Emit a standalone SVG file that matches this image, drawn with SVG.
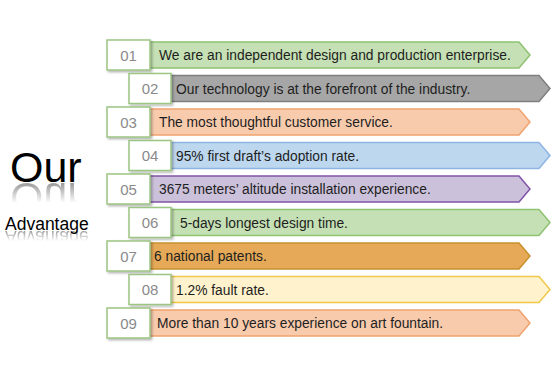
<svg xmlns="http://www.w3.org/2000/svg" width="554" height="379" viewBox="0 0 554 379">
<defs>
<style>
.bar{stroke-width:1.5}
.box{fill:#fff;stroke:#9cc583;stroke-width:1.5}
.num{font-family:"Liberation Sans",Arial,sans-serif;font-size:15px;fill:#8a8a8a;text-anchor:middle}
.lbl{font-family:"Liberation Sans",Arial,sans-serif;font-size:13.8px;fill:#1e1e1e}
.big{font-family:"Liberation Sans",Arial,sans-serif;fill:#000}
</style>
<filter id="sh" x="-20%" y="-20%" width="150%" height="150%">
<feDropShadow dx="1.5" dy="1.5" stdDeviation="1.2" flood-color="#000" flood-opacity="0.3"/>
</filter>
<linearGradient id="fade1" x1="0" y1="0" x2="0" y2="1">
<stop offset="0" stop-color="#fff" stop-opacity="0.4"/>
<stop offset="1" stop-color="#fff" stop-opacity="0"/>
</linearGradient>
<mask id="m1" maskUnits="userSpaceOnUse" x="0" y="183" width="110" height="20">
<rect x="0" y="183" width="110" height="20" fill="url(#fade1)"/>
</mask>
<mask id="m2" maskUnits="userSpaceOnUse" x="0" y="231" width="110" height="10">
<rect x="0" y="231" width="110" height="10" fill="url(#fade1)"/>
</mask>
</defs>
<rect width="554" height="379" fill="#fff"/>

<g id="title">
<text class="big" x="10" y="182" font-size="43">Our</text>
<g mask="url(#m1)"><text class="big" x="10" y="-183" font-size="43" transform="scale(1,-1)" fill="#666">Our</text></g>
<text class="big" x="5" y="230" font-size="17.5">Advantage</text>
<g mask="url(#m2)"><text class="big" x="5" y="-231" font-size="17.5" transform="scale(1,-1)" fill="#666">Advantage</text></g>
</g>

<g id="item01">
<path class="bar" d="M145,42 H519 L530,55 L519,68 H145 Z" fill="#c5e0b4" stroke="#8fc271"/>
<rect class="box" x="107" y="40" width="43" height="30" filter="url(#sh)"/>
<text class="num" x="128.5" y="60.5">01</text>
<text class="lbl" x="159" y="60">We are an independent design and production enterprise.</text>
</g>

<g id="item02">
<path class="bar" d="M166,75.5 H539 L550,88.5 L539,101.5 H166 Z" fill="#a6a6a6" stroke="#7f7f7f"/>
<rect class="box" x="129" y="73.5" width="42" height="30" filter="url(#sh)"/>
<text class="num" x="150" y="94">02</text>
<text class="lbl" x="176" y="93.5">Our technology is at the forefront of the industry.</text>
</g>

<g id="item03">
<path class="bar" d="M145,109 H519 L530,122 L519,135 H145 Z" fill="#f8cbad" stroke="#f0a36f"/>
<rect class="box" x="107" y="107" width="43" height="30" filter="url(#sh)"/>
<text class="num" x="128.5" y="127.5">03</text>
<text class="lbl" x="159" y="127">The most thoughtful customer service.</text>
</g>

<g id="item04">
<path class="bar" d="M166,142.5 H539 L550,155.5 L539,168.5 H166 Z" fill="#bdd7ee" stroke="#8eb4e3"/>
<rect class="box" x="129" y="140.5" width="42" height="30" filter="url(#sh)"/>
<text class="num" x="150" y="161">04</text>
<text class="lbl" x="176" y="160.5">95% first draft’s adoption rate.</text>
</g>

<g id="item05">
<path class="bar" d="M145,176 H519 L530,189 L519,202 H145 Z" fill="#ccc1da" stroke="#8054a8"/>
<rect class="box" x="107" y="174" width="43" height="30" filter="url(#sh)"/>
<text class="num" x="128.5" y="194.5">05</text>
<text class="lbl" x="159" y="194">3675 meters’ altitude installation experience.</text>
</g>

<g id="item06">
<path class="bar" d="M166,209.5 H539 L550,222.5 L539,235.5 H166 Z" fill="#c5e0b4" stroke="#8fc271"/>
<rect class="box" x="129" y="207.5" width="42" height="30" filter="url(#sh)"/>
<text class="num" x="150" y="228">06</text>
<text class="lbl" x="180" y="227.5">5-days longest design time.</text>
</g>

<g id="item07">
<path class="bar" d="M145,243 H519 L530,256 L519,269 H145 Z" fill="#e5a957" stroke="#c9912f"/>
<rect class="box" x="107" y="241" width="43" height="30" filter="url(#sh)"/>
<text class="num" x="128.5" y="261.5">07</text>
<text class="lbl" x="154" y="261">6 national patents.</text>
</g>

<g id="item08">
<path class="bar" d="M166,276.5 H539 L550,289.5 L539,302.5 H166 Z" fill="#fff2cc" stroke="#f0c84a"/>
<rect class="box" x="129" y="274.5" width="42" height="30" filter="url(#sh)"/>
<text class="num" x="150" y="295">08</text>
<text class="lbl" x="176" y="294.5">1.2% fault rate.</text>
</g>

<g id="item09">
<path class="bar" d="M145,310 H519 L530,323 L519,336 H145 Z" fill="#f8cbad" stroke="#f0a36f"/>
<rect class="box" x="107" y="308" width="43" height="30" filter="url(#sh)"/>
<text class="num" x="128.5" y="328.5">09</text>
<text class="lbl" x="157" y="328">More than 10 years experience on art fountain.</text>
</g>

<g id="connectors"></g>
</svg>
